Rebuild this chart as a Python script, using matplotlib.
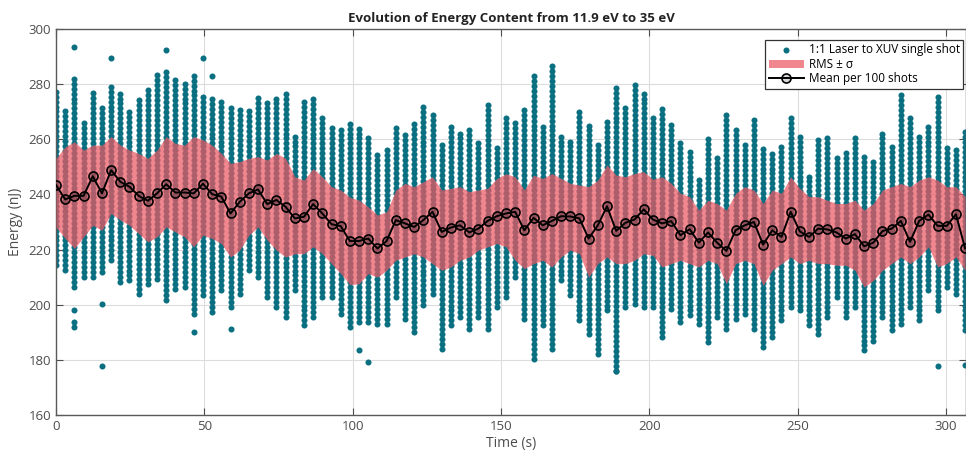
import numpy as np
import matplotlib.pyplot as plt

plt.rcParams['font.family'] = ['Open Sans', 'DejaVu Sans']

# one column of shots every 100 shots (~3.1 s)
n_cols = 100
dt = 3.096

# mean per 100 shots (nJ)
mean_e = [243.4, 238.2, 239.5, 239.5, 246.6, 240.4, 248.8, 244.6, 242.8, 239.5,
          237.7, 240.4, 243.7, 240.7, 240.7, 240.4, 243.9, 240.1, 239.2, 233.1,
          237.3, 240.4, 241.8, 236.5, 238.0, 235.5, 231.3, 231.9, 236.5, 233.1,
          229.2, 228.5, 223.1, 223.1, 224.0, 220.4, 223.1, 230.7, 229.5, 228.2,
          230.7, 233.7, 226.4, 228.0, 228.8, 226.2, 227.6, 230.4, 232.1, 233.1,
          233.7, 227.0, 231.5, 228.8, 230.4, 232.1, 232.0, 231.3, 224.0, 228.8,
          235.7, 226.8, 229.7, 230.9, 234.6, 230.9, 229.5, 230.3, 225.2, 227.4,
          222.5, 226.2, 222.5, 219.5, 227.0, 228.8, 230.0, 221.8, 227.0, 224.6,
          233.7, 226.6, 224.6, 227.6, 227.3, 226.2, 224.0, 225.6, 221.2, 222.5,
          226.7, 227.6, 230.4, 222.8, 230.4, 232.7, 228.6, 228.6, 232.8, 220.4]

# RMS +/- sigma band edges
band_hi = [253.1, 257.3, 259.1, 256.1, 257.9, 257.9, 261.0, 257.9, 256.1, 254.9,
           253.1, 256.1, 261.0, 258.5, 257.9, 261.0, 259.8, 257.9, 254.9, 251.3,
           251.9, 253.1, 253.7, 252.5, 254.9, 253.1, 246.4, 245.2, 249.4, 246.4,
           242.8, 241.6, 239.0, 237.9, 235.5, 232.5, 233.7, 241.6, 244.0, 242.8,
           244.6, 246.4, 241.6, 242.2, 242.8, 241.0, 241.6, 242.2, 245.8, 247.5,
           246.4, 241.6, 247.0, 245.8, 247.6, 245.8, 244.0, 243.4, 242.8, 245.2,
           250.7, 247.0, 246.4, 247.6, 248.3, 245.5, 246.4, 244.0, 240.4, 239.2,
           234.3, 237.9, 236.7, 234.3, 240.4, 242.8, 241.6, 236.7, 241.6, 240.4,
           246.4, 242.2, 239.2, 239.2, 237.9, 236.7, 236.7, 237.9, 234.3, 236.7,
           241.6, 242.8, 244.0, 242.8, 245.2, 246.4, 245.2, 242.8, 242.8, 239.2]
band_lo = [228.2, 224.0, 220.4, 224.6, 228.8, 227.0, 233.1, 230.7, 228.8, 225.8,
           222.8, 224.6, 228.2, 226.4, 224.6, 221.0, 225.2, 224.0, 222.2, 217.3,
           219.8, 225.2, 228.2, 223.4, 219.8, 217.3, 218.5, 218.5, 221.0, 218.5,
           214.9, 211.3, 207.3, 207.6, 211.3, 210.0, 212.5, 216.1, 217.3, 218.5,
           217.3, 214.9, 212.5, 213.7, 216.1, 217.3, 219.8, 221.0, 222.2, 221.0,
           216.1, 213.1, 214.9, 216.1, 213.7, 217.3, 219.8, 218.5, 210.0, 214.9,
           217.3, 214.9, 214.9, 216.1, 218.5, 217.9, 213.7, 214.9, 216.1, 214.9,
           213.7, 216.1, 214.9, 207.6, 214.9, 216.1, 214.9, 207.0, 212.5, 214.9,
           217.3, 214.9, 216.1, 214.9, 214.9, 214.3, 214.3, 212.5, 206.4, 208.8,
           212.5, 214.9, 217.3, 214.9, 217.3, 221.0, 213.7, 214.9, 217.3, 212.5]

# extent of the stacked single-shot dots in each column
shot_top = [277.3, 271.3, 282.8, 267.0, 277.3, 271.9, 280.4, 277.9, 270.7, 274.9,
            278.5, 283.4, 285.8, 281.6, 281.0, 284.6, 277.0, 276.1, 274.3, 272.5,
            270.7, 270.7, 276.1, 274.3, 275.5, 277.9, 261.6, 273.7, 275.5, 268.8,
            264.6, 264.0, 265.8, 264.0, 260.4, 254.9, 257.3, 264.6, 261.6, 267.0,
            272.5, 268.8, 258.5, 264.6, 262.8, 263.4, 258.5, 273.7, 258.5, 268.2,
            267.0, 271.3, 284.0, 264.6, 287.0, 261.6, 259.8, 270.7, 266.4, 258.5,
            267.6, 279.1, 271.9, 280.4, 276.7, 267.6, 271.3, 266.4, 258.5, 256.7,
            246.4, 261.0, 253.1, 270.1, 263.4, 258.5, 267.6, 256.7, 255.5, 258.5,
            267.6, 262.2, 247.6, 260.4, 261.6, 254.3, 255.5, 260.4, 253.7, 253.1,
            263.4, 257.3, 276.7, 267.6, 261.6, 265.8, 276.7, 257.9, 257.3, 263.4]
shot_bot = [214.3, 212.5, 206.4, 210.1, 210.1, 211.9, 216.1, 208.2, 208.8, 204.0,
            207.6, 209.4, 201.6, 205.8, 206.4, 196.7, 203.4, 197.3, 205.2, 199.2,
            204.0, 212.5, 210.1, 202.8, 199.2, 195.5, 205.2, 192.5, 195.5, 202.8,
            202.8, 196.7, 191.9, 193.7, 193.7, 193.1, 193.1, 202.8, 194.9, 190.0,
            199.8, 204.0, 184.0, 192.5, 195.5, 191.3, 195.5, 191.3, 199.2, 202.8,
            210.1, 194.9, 180.4, 192.5, 184.0, 208.8, 203.4, 194.3, 189.4, 182.2,
            197.9, 176.1, 199.2, 200.4, 199.2, 199.2, 188.2, 198.5, 193.7, 196.1,
            193.1, 186.4, 195.5, 191.3, 194.9, 196.7, 191.3, 184.6, 188.2, 194.3,
            199.2, 197.9, 192.5, 189.4, 195.5, 202.8, 195.5, 199.2, 183.4, 187.0,
            195.5, 190.7, 193.1, 199.2, 194.3, 205.2, 197.9, 206.4, 204.0, 190.7]

# isolated shots outside the stacks: (column, energy)
outlier_col = [2, 2, 2, 2, 5, 5, 6, 12, 15, 16, 17, 19, 33, 34, 61, 96, 99]
outlier_e = [293.5, 197.9, 193.7, 191.9, 200.4, 177.9, 289.4, 292.5, 190.0, 289.4,
             282.8, 191.3, 183.4, 179.1, 176.1, 177.9, 178.2]

teal = '#0b6f82'
pink = '#eb5863'

t = np.arange(n_cols) * dt

# expand each column into a stack of dots
sx, sy = [], []
for k in range(n_cols):
    vals = np.arange(shot_bot[k], shot_top[k] + 0.01, 1.8)
    sx.extend([t[k]] * len(vals))
    sy.extend(vals)
sx.extend(t[outlier_col])
sy.extend(outlier_e)

fig = plt.figure(figsize=(9.66, 4.54), dpi=100)
ax = fig.add_axes([0.058, 0.086, 0.942, 0.850])

ax.scatter(sx, sy, s=19, color=teal, linewidths=0, zorder=2,
           label='1:1 Laser to XUV single shot')
ax.fill_between(t, band_lo, band_hi, color=pink, alpha=0.72, linewidth=0,
                zorder=3, label='RMS ± σ')
ax.plot(t, mean_e, color='black', lw=1.4, marker='o', ms=6.5,
        mfc=(0, 0, 0, 0.15), mec='black', mew=1.2, zorder=4,
        label='Mean per 100 shots')

ax.set_xlim(0, 306.8)
ax.set_ylim(160, 300)
ax.set_xticks(range(0, 301, 50))
ax.set_yticks(range(160, 301, 20))
ax.grid(True, color='#dcdcdc', lw=0.8, zorder=0)
ax.set_axisbelow(True)
ax.tick_params(direction='in', length=5, colors='#4d4d4d', labelsize=9.5,
               top=True, right=True)
for side in ax.spines.values():
    side.set_color('#5a5a5a')
    side.set_linewidth(1.0)

ax.set_title('Evolution of Energy Content from 11.9 eV to 35 eV',
             fontsize=9.5, fontweight='bold', color='#222222', pad=5)
ax.set_xlabel('Time (s)', fontsize=10, color='#4d4d4d', labelpad=2)
ax.set_ylabel('Energy (nJ)', fontsize=10, color='#4d4d4d', labelpad=4)

leg = ax.legend(loc='upper left', bbox_to_anchor=(0.792, 0.912),
                bbox_transform=fig.transFigure, fontsize=8.5, frameon=True,
                fancybox=False, framealpha=1, edgecolor='#333333',
                borderpad=0.3, labelspacing=0.12, handlelength=3.0,
                handletextpad=0.4, borderaxespad=0)
leg.get_frame().set_linewidth(0.9)

fig.savefig('out.png', dpi=100)
